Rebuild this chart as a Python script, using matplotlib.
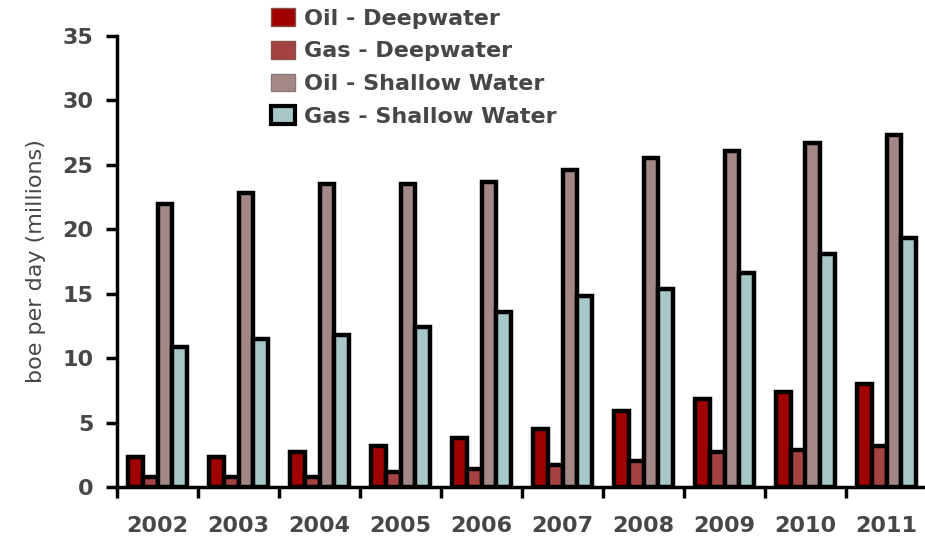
import numpy as np
import matplotlib
matplotlib.use('Agg')
import matplotlib.pyplot as plt
from matplotlib.patches import Patch

#%%

years = ['2002', '2003', '2004', '2005', '2006', '2007', '2008', '2009', '2010', '2011']
oil_deep = [2.3, 2.3, 2.7, 3.2, 3.8, 4.5, 5.9, 6.8, 7.4, 8.0]
gas_deep = [0.8, 0.8, 0.8, 1.2, 1.4, 1.7, 2.0, 2.7, 2.9, 3.2]
oil_shallow = [22.0, 22.8, 23.5, 23.5, 23.7, 24.6, 25.5, 26.1, 26.7, 27.3]
gas_shallow = [10.9, 11.5, 11.8, 12.4, 13.6, 14.8, 15.4, 16.6, 18.1, 19.3]

series = [oil_deep, gas_deep, oil_shallow, gas_shallow]
labels = ['Oil - Deepwater', 'Gas - Deepwater', 'Oil - Shallow Water', 'Gas - Shallow Water']
colors = ['#a00000', '#a54343', '#a48888', '#a7c7c8']
legend_edges = ['#8a5050', '#8a5050', '#8c7777', 'black']

txt = '#474747'

#%%

fig = plt.figure(figsize=(9.25, 5.39), dpi=100)
ax = fig.add_axes([117/925, 1 - 487/539, 810/925, (487 - 36)/539])

x = np.arange(len(years))
w = 0.185
for i, vals in enumerate(series):
    ax.bar(x + (i - 1.5)*w, vals, width=w, color=colors[i], edgecolor='black', linewidth=3.2, zorder=2)

ax.set_xlim(-0.5, len(years) - 0.5)
ax.set_ylim(0, 35)
ax.set_yticks(np.arange(0, 36, 5))
ax.set_xticks(x)
ax.set_xticklabels(years, fontweight='bold')
ax.set_yticklabels([str(v) for v in range(0, 36, 5)], fontweight='bold')
ax.set_xticks(np.arange(-0.5, len(years)), minor=True)

for s in ['top', 'right']:
    ax.spines[s].set_visible(False)
for s in ['left', 'bottom']:
    ax.spines[s].set_linewidth(2.5)

ax.tick_params(axis='y', direction='out', length=8, width=2.5, pad=9,
               labelsize=16, labelcolor=txt)
ax.tick_params(axis='x', which='major', length=0, pad=21, labelsize=16, labelcolor=txt)
ax.tick_params(axis='x', which='minor', direction='out', length=8, width=2.5)

ax.set_ylabel('boe per day (millions)', fontsize=16, color=txt, labelpad=12)

handles = [Patch(facecolor=colors[i], edgecolor=legend_edges[i],
                 linewidth=1 if i < 3 else 3, label=labels[i]) for i in range(4)]
ax.legend(handles=handles, loc='upper left', bbox_to_anchor=(271/925, 1 - 8/539),
          bbox_transform=fig.transFigure, frameon=False,
          prop={'size': 16, 'weight': 'bold'},
          handlelength=1.1, handleheight=0.85, handletextpad=0.4,
          labelspacing=0.55, borderpad=0, borderaxespad=0, labelcolor=txt)

fig.savefig('out.png', dpi=100)
